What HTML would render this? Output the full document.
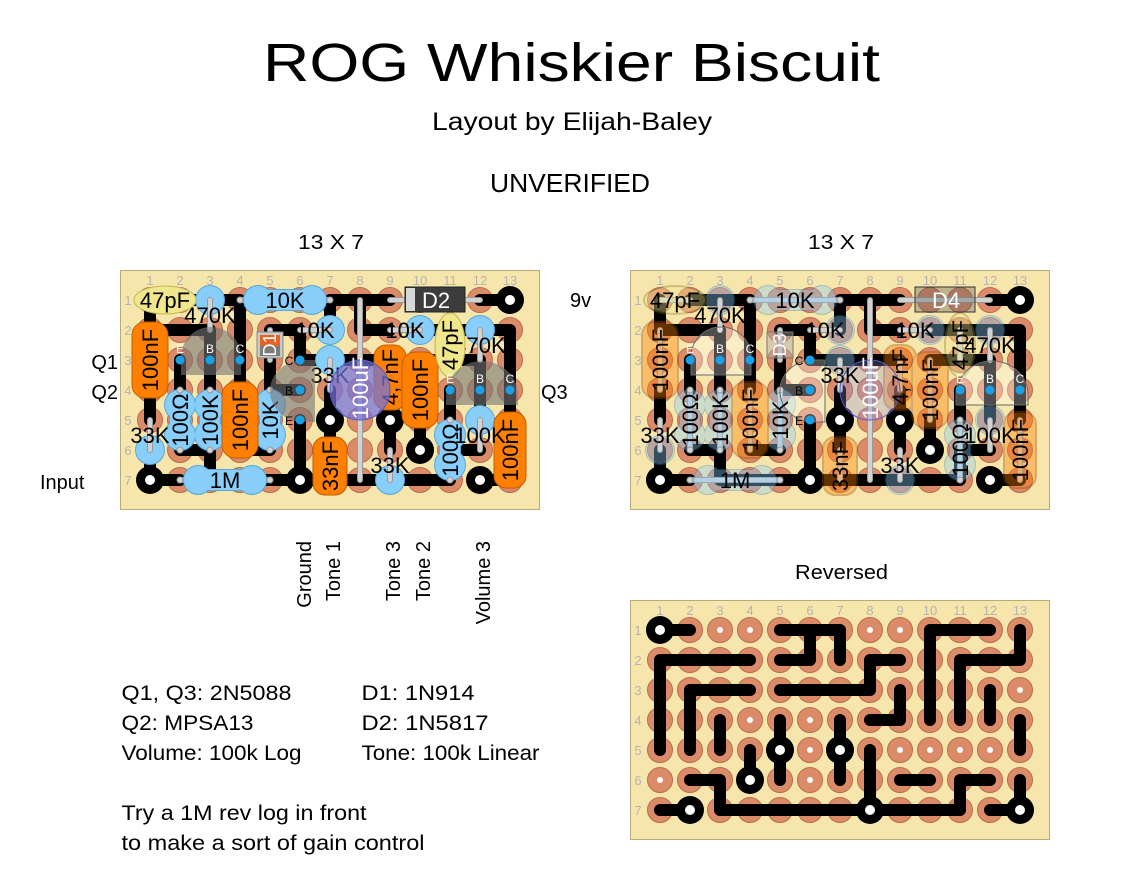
<!DOCTYPE html>
<html><head><meta charset="utf-8">
<style>
html,body{margin:0;padding:0;background:#fff;overflow:hidden}
svg{display:block}
text{font-family:"Liberation Sans",Arial,sans-serif}
</style></head><body>
<svg width="1121" height="884" viewBox="0 0 1121 884" xmlns="http://www.w3.org/2000/svg" xmlns:xlink="http://www.w3.org/1999/xlink">
<defs>
<pattern id="pp" x="15" y="15" width="30" height="30" patternUnits="userSpaceOnUse"><circle cx="15" cy="15" r="12.5" fill="#dc8b69" stroke="#b76d4f" stroke-width="1"/></pattern>
<pattern id="ph" x="15" y="15" width="30" height="30" patternUnits="userSpaceOnUse"><circle cx="15" cy="15" r="12.5" fill="#dc8b69" stroke="#b76d4f" stroke-width="1"/><circle cx="15" cy="15" r="3" fill="#fff"/></pattern>

<g id="nums" font-size="13" fill="#b4b4b4" text-anchor="middle" font-family="Liberation Sans, Arial, sans-serif">
<text x="30" y="15">1</text><text x="60" y="15">2</text><text x="90" y="15">3</text><text x="120" y="15">4</text><text x="150" y="15">5</text><text x="180" y="15">6</text><text x="210" y="15">7</text><text x="240" y="15">8</text><text x="270" y="15">9</text><text x="300" y="15">10</text><text x="330" y="15">11</text><text x="360" y="15">12</text><text x="390" y="15">13</text>
<text x="8" y="35">1</text><text x="8" y="65">2</text><text x="8" y="95">3</text><text x="8" y="125">4</text><text x="8" y="155">5</text><text x="8" y="185">6</text><text x="8" y="215">7</text>
</g>

<g id="tr">
<path fill="none" stroke="#000" stroke-width="12" stroke-linecap="round" stroke-linejoin="round" d="M390 30H360M270 30H210M240 30V60H270M210 30V60M300 60H390V150M300 90H360V150M330 120V150M300 150V180M270 120V180M270 90H180V60H150M210 120V180M360 180H330V210H90V180H60M60 210H30V180M390 210H360M150 90V120H180M60 30H120V120M30 30V60H90V120M60 90V120M30 120V150M180 150V210M150 180H120"/>
<g fill="#000"><circle cx="390" cy="30" r="14"/><circle cx="300" cy="180" r="14"/><circle cx="270" cy="150" r="14"/><circle cx="210" cy="150" r="14"/><circle cx="180" cy="210" r="14"/><circle cx="360" cy="210" r="14"/><circle cx="30" cy="210" r="14"/></g>
<g fill="#fff"><circle cx="390" cy="30" r="5"/><circle cx="300" cy="180" r="5"/><circle cx="270" cy="150" r="5"/><circle cx="210" cy="150" r="5"/><circle cx="180" cy="210" r="5"/><circle cx="360" cy="210" r="5"/><circle cx="30" cy="210" r="5"/></g>
</g>

<g id="lu" fill="none" stroke-linecap="round"><path d="M30 30H60M120 30H210M60 210H150M60 120V180M90 120V180M150 120V180M330 150V210M270 30H360M150 60V90M240 30V210M30 60V120M120 120V180M210 180V210M270 90V120M300 90V150M390 150V210M330 60V90"/></g>
<g id="lo" fill="none" stroke-linecap="round"><path d="M90 30V60M180 60H210M270 60H300M210 90V120M30 150V180M270 180V210M360 150V180M360 60V90"/></g>
<g id="ld" fill="#d2d2d2" stroke="#9a9a9a" stroke-width="1">
<circle cx="120" cy="30" r="3"/><circle cx="210" cy="30" r="3"/><circle cx="60" cy="210" r="3"/><circle cx="150" cy="210" r="3"/><circle cx="60" cy="120" r="3"/><circle cx="60" cy="180" r="3"/><circle cx="90" cy="120" r="3"/><circle cx="90" cy="180" r="3"/><circle cx="150" cy="120" r="3"/><circle cx="150" cy="180" r="3"/><circle cx="330" cy="150" r="3"/><circle cx="330" cy="210" r="3"/>
</g>

<g id="rs">
<circle cx="90" cy="30" r="14"/><circle cx="210" cy="60" r="14"/><circle cx="300" cy="60" r="14"/><circle cx="210" cy="90" r="14"/><circle cx="30" cy="180" r="14"/><circle cx="270" cy="210" r="14"/><circle cx="360" cy="150" r="14"/><circle cx="360" cy="60" r="14"/>
<circle cx="138" cy="30" r="14"/><circle cx="192" cy="30" r="14"/><rect x="138" y="20" width="54" height="20"/>
<circle cx="78" cy="210" r="14"/><circle cx="132" cy="210" r="14"/><rect x="78" y="200" width="54" height="20"/>
<circle cx="60" cy="135" r="15"/><circle cx="60" cy="165" r="15"/><rect x="50" y="135" width="20" height="30"/>
<circle cx="90" cy="135" r="15"/><circle cx="90" cy="165" r="15"/><rect x="80" y="135" width="20" height="30"/>
<circle cx="150" cy="135" r="15"/><circle cx="150" cy="165" r="15"/><rect x="140" y="135" width="20" height="30"/>
<circle cx="330" cy="165" r="15"/><circle cx="330" cy="195" r="15"/><rect x="320" y="165" width="20" height="30"/>
</g>
<g id="cs">
<rect x="12" y="52" width="36" height="76" rx="13"/>
<rect x="102" y="112" width="36" height="76" rx="13"/>
<rect x="193" y="167" width="34" height="58" rx="12"/>
<rect x="254" y="75" width="32" height="65" rx="12"/>
<rect x="282" y="82" width="36" height="76" rx="13"/>
<rect x="374" y="142" width="32" height="76" rx="12"/>
</g>
<g id="es"><ellipse cx="45" cy="30" rx="31" ry="14"/><ellipse cx="330" cy="75" rx="15" ry="32"/></g>

<g id="labels" font-size="22" fill="#000" text-anchor="middle" font-family="Liberation Sans, Arial, sans-serif">
<text x="45" y="38">47pF</text>
<text x="90" y="53">470K</text>
<text x="165" y="38">10K</text>
<text x="195" y="68">10K</text>
<text x="285" y="68">10K</text>
<text x="210" y="113">33K</text>
<text x="30" y="173">33K</text>
<text x="270" y="203">33K</text>
<text x="360" y="173">100K</text>
<text x="360" y="83">470K</text>
<text x="105" y="218">1M</text>
<text x="60" y="158" transform="rotate(-90 60 150)">100Ω</text>
<text x="90" y="158" transform="rotate(-90 90 150)">100K</text>
<text x="150" y="158" transform="rotate(-90 150 150)">10K</text>
<text x="330" y="188" transform="rotate(-90 330 180)">100Ω</text>
<text x="30" y="98" transform="rotate(-90 30 90)">100nF</text>
<text x="120" y="158" transform="rotate(-90 120 150)">100nF</text>
<text x="210" y="204" transform="rotate(-90 210 196)">33nF</text>
<text x="270" y="115" transform="rotate(-90 270 107)">4,7nF</text>
<text x="300" y="128" transform="rotate(-90 300 120)">100nF</text>
<text x="390" y="188" transform="rotate(-90 390 180)">100nF</text>
<text x="330" y="83" transform="rotate(-90 330 75)">47pF</text>
</g>

<g id="pins" font-size="12" text-anchor="middle" font-family="Liberation Sans, Arial, sans-serif">
<g fill="#fff"><text x="60" y="83">E</text><text x="90" y="83">B</text><text x="120" y="83">C</text><text x="330" y="113">E</text><text x="360" y="113">B</text><text x="390" y="113">C</text></g>
<g fill="#000"><text x="169" y="95">C</text><text x="169" y="125">B</text><text x="169" y="155">E</text></g>
<g fill="#1aa0e6"><circle cx="60" cy="90" r="4.5"/><circle cx="90" cy="90" r="4.5"/><circle cx="120" cy="90" r="4.5"/><circle cx="180" cy="90" r="4.5"/><circle cx="180" cy="120" r="4.5"/><circle cx="180" cy="150" r="4.5"/><circle cx="330" cy="120" r="4.5"/><circle cx="360" cy="120" r="4.5"/><circle cx="390" cy="120" r="4.5"/></g>
</g>
<g id="qs"><path d="M61 105V87A30 30 0 0 1 121 87V105Z"/><path d="M195 90H183A33 31 0 0 0 183 152H195Z"/><path d="M326 135V125A36 34 0 0 1 398 125V135Z"/></g>
</defs>

<!-- Titles -->
<text x="263" y="81" font-size="54" textLength="617" lengthAdjust="spacingAndGlyphs">ROG Whiskier Biscuit</text>
<text x="432" y="130" font-size="25" textLength="280" lengthAdjust="spacingAndGlyphs">Layout by Elijah-Baley</text>
<text x="490" y="192" font-size="26" textLength="160" lengthAdjust="spacingAndGlyphs">UNVERIFIED</text>
<text x="298" y="249" font-size="20" textLength="66" lengthAdjust="spacingAndGlyphs">13 X 7</text>
<text x="808" y="249" font-size="20" textLength="66" lengthAdjust="spacingAndGlyphs">13 X 7</text>
<text x="795" y="579" font-size="20" textLength="93" lengthAdjust="spacingAndGlyphs">Reversed</text>

<text x="118" y="369" font-size="20" text-anchor="end">Q1</text>
<text x="118" y="399" font-size="20" text-anchor="end">Q2</text>
<text x="541" y="399" font-size="20">Q3</text>
<text x="40" y="489" font-size="20">Input</text>
<text x="570" y="307" font-size="20">9v</text>

<text transform="translate(311,541) rotate(-90)" text-anchor="end" font-size="20">Ground</text>
<text transform="translate(340,541) rotate(-90)" text-anchor="end" font-size="20">Tone 1</text>
<text transform="translate(400,541) rotate(-90)" text-anchor="end" font-size="20">Tone 3</text>
<text transform="translate(430,541) rotate(-90)" text-anchor="end" font-size="20">Tone 2</text>
<text transform="translate(490,541) rotate(-90)" text-anchor="end" font-size="20">Volume 3</text>

<g font-size="21">
<text x="121.5" y="700" textLength="170" lengthAdjust="spacingAndGlyphs">Q1, Q3: 2N5088</text>
<text x="361.5" y="700" textLength="113" lengthAdjust="spacingAndGlyphs">D1: 1N914</text>
<text x="121.5" y="730" textLength="132" lengthAdjust="spacingAndGlyphs">Q2: MPSA13</text>
<text x="361.5" y="730" textLength="127" lengthAdjust="spacingAndGlyphs">D2: 1N5817</text>
<text x="121.5" y="760" textLength="180" lengthAdjust="spacingAndGlyphs">Volume: 100k Log</text>
<text x="361.5" y="760" textLength="178" lengthAdjust="spacingAndGlyphs">Tone: 100k Linear</text>
<text x="121.5" y="820" textLength="245" lengthAdjust="spacingAndGlyphs">Try a 1M rev log in front</text>
<text x="121.5" y="850" textLength="303" lengthAdjust="spacingAndGlyphs">to make a sort of gain control</text>
</g>

<!-- MAIN BOARD -->
<g transform="translate(120,270)">
<rect x="0.5" y="0.5" width="419" height="239" fill="#f7e6ab" stroke="#b8aa7c"/>
<use href="#nums" xlink:href="#nums"/>
<rect x="15" y="15" width="390" height="210" fill="url(#pp)"/>
<use href="#tr" xlink:href="#tr"/>
<use href="#lu" xlink:href="#lu" stroke="#9a9a9a" stroke-width="6"/>
<use href="#lu" xlink:href="#lu" stroke="#d2d2d2" stroke-width="4"/>
<use href="#rs" xlink:href="#rs" fill="#5ba7d8" stroke="#5ba7d8" stroke-width="2"/>
<use href="#rs" xlink:href="#rs" fill="#87cefa"/>
<use href="#cs" xlink:href="#cs" fill="#ff8000" stroke="#c05c00" stroke-width="1"/>
<use href="#es" xlink:href="#es" fill="#f0e68c" stroke="#c2b55a" stroke-width="1"/>
<rect x="285" y="17" width="60" height="25" fill="#3c3c3c" stroke="#222"/>
<rect x="286" y="18" width="9" height="23" fill="#d8d8d8"/>
<rect x="137" y="62" width="26" height="26" fill="#c8c8c8" stroke="#8a8a8a"/>
<rect x="140" y="65" width="20" height="11" fill="#e2642a"/>
<rect x="140" y="76" width="20" height="10" fill="#7c7c7c"/>
<use href="#lo" xlink:href="#lo" stroke="#9a9a9a" stroke-width="6"/>
<use href="#lo" xlink:href="#lo" stroke="#d2d2d2" stroke-width="4"/>
<use href="#ld" xlink:href="#ld"/>
<use href="#labels" xlink:href="#labels"/>
<ellipse cx="330" cy="75" rx="15" ry="32" fill="#f0e68c" stroke="#c2b55a" stroke-width="1"/>
<text x="330" y="83" font-size="22" fill="#000" text-anchor="middle" transform="rotate(-90 330 75)">47pF</text>
<use href="#qs" xlink:href="#qs" fill="#777" fill-opacity="0.6"/>
<use href="#pins" xlink:href="#pins"/>
<circle cx="240" cy="120" r="30" fill="#7272dc" fill-opacity="0.72" stroke="#5a5abf"/>
<text x="240" y="126" font-size="22" fill="#fff" text-anchor="middle" transform="rotate(-90 240 118)">100uF</text>
<text x="316" y="38" font-size="22" fill="#fff" text-anchor="middle">D2</text>
<text x="150" y="81" font-size="18" fill="#fff" text-anchor="middle" transform="rotate(-90 150 75)">D1</text>
</g>

<!-- RIGHT BOARD -->
<g transform="translate(630,270)">
<rect x="0.5" y="0.5" width="419" height="239" fill="#f7e6ab" stroke="#b8aa7c"/>
<use href="#nums" xlink:href="#nums"/>
<rect x="15" y="15" width="390" height="210" fill="url(#pp)"/>
<use href="#tr" xlink:href="#tr"/>
<use href="#lu" xlink:href="#lu" stroke="#9a9a9a" stroke-width="6"/>
<use href="#lu" xlink:href="#lu" stroke="#d2d2d2" stroke-width="4"/>
<g opacity="0.38">
<use href="#rs" xlink:href="#rs" fill="#2f7fbf" stroke="#2f7fbf" stroke-width="2"/>
<use href="#rs" xlink:href="#rs" fill="#87cefa"/>
<use href="#cs" xlink:href="#cs" fill="#ff8000" stroke="#a04a00" stroke-width="2"/>
<use href="#es" xlink:href="#es" fill="#f0e68c" stroke="#8a7e30" stroke-width="2"/>
</g>
<rect x="285" y="17" width="60" height="25" fill="#555" fill-opacity="0.35" stroke="#333"/>
<rect x="137" y="62" width="26" height="26" fill="#aaa" fill-opacity="0.45" stroke="#777"/>
<use href="#lo" xlink:href="#lo" stroke="#9a9a9a" stroke-width="6"/>
<use href="#lo" xlink:href="#lo" stroke="#d2d2d2" stroke-width="4"/>
<use href="#ld" xlink:href="#ld"/>
<use href="#qs" xlink:href="#qs" fill="#fff" fill-opacity="0.3" stroke="#6a6a6a" stroke-width="1"/>
<circle cx="240" cy="120" r="30" fill="#9090e0" fill-opacity="0.3" stroke="#5a5abf"/>
<use href="#labels" xlink:href="#labels"/>
<use href="#pins" xlink:href="#pins"/>
<text x="240" y="126" font-size="22" fill="#fff" text-anchor="middle" transform="rotate(-90 240 118)">100uF</text>
<text x="316" y="38" font-size="22" fill="#fff" text-anchor="middle">D4</text>
<text x="150" y="81" font-size="18" fill="#fff" text-anchor="middle" transform="rotate(-90 150 75)">D3</text>
</g>

<!-- REVERSED BOARD -->
<g transform="translate(630,600)">
<rect x="0.5" y="0.5" width="419" height="239" fill="#f7e6ab" stroke="#b8aa7c"/>
<use href="#nums" xlink:href="#nums"/>
<rect x="15" y="15" width="390" height="210" fill="url(#ph)"/>
</g>
<use href="#tr" xlink:href="#tr" transform="translate(1050,600) scale(-1,1)"/>
</svg>
</body></html>
